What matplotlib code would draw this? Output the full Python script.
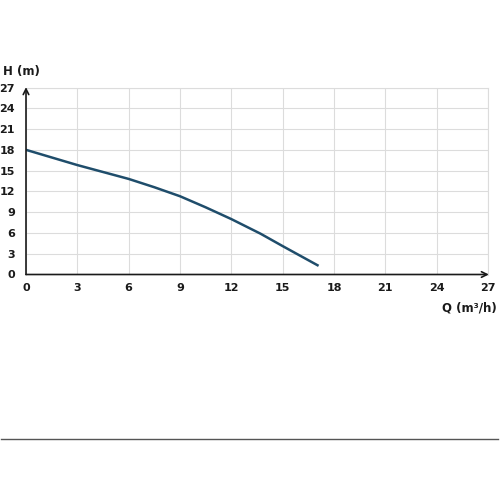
import numpy as np
import matplotlib
matplotlib.use("Agg")
import matplotlib.pyplot as plt

# curve (Q in m3/h, H in m)
flow = [0, 1.5, 3, 4.5, 6, 7.5, 9, 10.5, 12, 13.7, 15, 17.1]
head = [18, 16.9, 15.8, 14.8, 13.8, 12.6, 11.3, 9.7, 8.0, 5.9, 4.1, 1.25]
ticks = [0, 3, 6, 9, 12, 15, 18, 21, 24, 27]

plt.rcParams['font.family'] = ['DejaVu Sans']

fig = plt.figure(figsize=(5, 5), dpi=100)
ax = fig.add_axes([0.052, 0.451, 0.924, 0.374])

ax.plot(flow, head, color="#1f4d6b", lw=1.8, solid_capstyle="butt",
        solid_joinstyle="round")

ax.set_xlim(0, 27)
ax.set_ylim(0, 27)
ax.set_xticks(ticks)
ax.set_yticks(ticks)
ax.set_xticklabels([str(t) for t in ticks], fontsize=8, fontweight="bold", color="#1a1a1a")
ax.set_yticklabels([str(t) for t in ticks], fontsize=8, fontweight="bold", color="#1a1a1a")
ax.tick_params(axis="x", length=0, pad=6)
ax.tick_params(axis="y", length=0, pad=8)
ax.grid(True, color="#dcdcdc", lw=0.8)
ax.set_axisbelow(True)

for side in ["top", "right"]:
    ax.spines[side].set_color("#dcdcdc")
    ax.spines[side].set_linewidth(0.8)
for side in ["left", "bottom"]:
    ax.spines[side].set_visible(False)

# axis arrows
ax.annotate("", xy=(27.05, 0), xytext=(0, 0), xycoords="data",
            arrowprops=dict(arrowstyle="->", color="#1a1a1a", lw=1.2,
                            shrinkA=0, shrinkB=0), annotation_clip=False)
ax.annotate("", xy=(0, 27.05), xytext=(0, 0), xycoords="data",
            arrowprops=dict(arrowstyle="->", color="#1a1a1a", lw=1.2,
                            shrinkA=0, shrinkB=0), annotation_clip=False)

fig.text(0.006, 0.856, "H (m)", fontsize=8.5, fontweight="bold", ha="left", va="center",
         color="#1a1a1a")
fig.text(0.994, 0.384, "Q (m³/h)", fontsize=8.5, fontweight="bold", ha="right", va="center",
         color="#1a1a1a")

# separator line near bottom
fig.add_artist(plt.Line2D([0.002, 0.996], [0.122, 0.122], color="#555555", lw=1.0))

fig.savefig("out.png", dpi=100)
